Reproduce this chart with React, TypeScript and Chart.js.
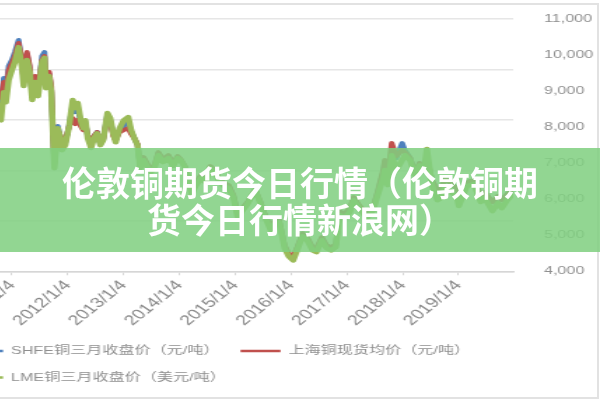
import React, { useEffect, useRef } from 'react';
import { Chart, registerables } from 'chart.js';

Chart.register(...registerables);

// ---- data ----
const dates = [
  '2010-10-01', '2010-10-20', '2010-11-08', '2010-11-22', '2010-12-10', '2010-12-31',
  '2011-01-20', '2011-02-14', '2011-03-04', '2011-03-17', '2011-04-08', '2011-04-26', '2011-05-12', '2011-06-02', '2011-06-20', '2011-07-15', '2011-08-01', '2011-08-10', '2011-08-31', '2011-09-15', '2011-09-30', '2011-10-05', '2011-10-27', '2011-11-15', '2011-11-25', '2011-12-15',
  '2012-01-10', '2012-02-03', '2012-02-20', '2012-03-05', '2012-03-25', '2012-04-10', '2012-04-25', '2012-05-10', '2012-06-01', '2012-06-20', '2012-07-10', '2012-08-01', '2012-08-20', '2012-09-17', '2012-10-05', '2012-10-25', '2012-11-10', '2012-12-05',
  '2013-01-02', '2013-02-01', '2013-02-20', '2013-03-10', '2013-04-01', '2013-04-18', '2013-05-10', '2013-06-25', '2013-07-20', '2013-08-15', '2013-09-15', '2013-10-20', '2013-11-20', '2013-12-20',
  '2014-01-10', '2014-02-10', '2014-03-20', '2014-04-15', '2014-05-20', '2014-06-20', '2014-07-20', '2014-08-20', '2014-09-20', '2014-10-20', '2014-11-20', '2014-12-20',
  '2015-01-15', '2015-02-10', '2015-03-20', '2015-05-10', '2015-06-15', '2015-07-10', '2015-08-20', '2015-09-15', '2015-10-15', '2015-11-20', '2015-12-15',
  '2016-01-15', '2016-02-10', '2016-03-15', '2016-04-15', '2016-05-20', '2016-06-15', '2016-07-20', '2016-08-20', '2016-09-20', '2016-10-20', '2016-11-15', '2016-12-15',
  '2017-01-20', '2017-02-15', '2017-03-20', '2017-05-10', '2017-06-20', '2017-07-20', '2017-08-25', '2017-09-05', '2017-09-25', '2017-10-20', '2017-11-20', '2017-12-28',
  '2018-01-15', '2018-02-20', '2018-03-20', '2018-04-20', '2018-05-20', '2018-06-07', '2018-07-10', '2018-08-15', '2018-09-10', '2018-10-05', '2018-11-15', '2018-12-20',
  '2019-01-03', '2019-02-25', '2019-04-10', '2019-05-25', '2019-06-20', '2019-08-10', '2019-09-15', '2019-10-10', '2019-11-15', '2019-12-20',
];

// SHFE铜三月收盘价（元/吨） — left axis
const shfe = [
  63930, 62940, 68290, 65910, 70680, 71870,
  73450, 75830, 71870, 67900, 73060, 70280, 64720, 67900, 65520, 72660, 73450, 67500, 69090, 65910, 54410, 51630, 58770, 56390, 54410, 55400,
  58970, 63140, 61550, 62340, 59570, 58370, 59570, 56790, 54800, 56790, 57580, 55200, 56190, 61150, 59960, 57180, 55990, 57980,
  58770, 59570, 57780, 56390, 55000, 50840, 52420, 50040, 50840, 53410, 52030, 52820, 51230, 52620,
  52030, 50440, 46070, 47260, 48850, 48060, 50640, 49840, 48060, 47260, 46870, 44880,
  41710, 42110, 43490, 46070, 43490, 41310, 38530, 39720, 39920, 34960, 33380,
  32780, 34570, 37340, 36550, 34570, 34370, 36550, 34960, 34570, 35160, 41710, 41110,
  42300, 44490, 42900, 41110, 42500, 45680, 49650, 51630, 48450, 53610, 52420, 55400,
  54010, 52420, 49650, 51430, 51030, 52420, 48060, 46070, 46470, 48450, 47260, 46470,
  44880, 47660, 48060, 45080, 45680, 43690, 44880, 44090, 45280, 46070,
];

// 上海铜现货均价（元/吨） — left axis
const spot = [
  65520, 64330, 67500, 65520, 69880, 71270,
  72660, 75240, 72260, 67500, 73450, 70680, 65520, 68690, 65910, 71870, 72660, 67900, 69490, 66710, 54800, 51230, 57980, 56790, 54800, 55800,
  58770, 60360, 59170, 59960, 58770, 57980, 59170, 56990, 55000, 56790, 57580, 55400, 56190, 60760, 59570, 56790, 55990, 57580,
  57980, 58370, 57180, 56390, 55200, 51030, 52620, 50240, 51030, 53610, 52220, 53020, 51430, 52820,
  52220, 50640, 46270, 47460, 49050, 48260, 50840, 50040, 48260, 47460, 47070, 45080,
  41910, 42300, 43690, 46270, 43690, 41510, 38730, 39920, 40120, 35160, 33570,
  32980, 34760, 37540, 36750, 34760, 34570, 36750, 35160, 34760, 35360, 41910, 41310,
  42500, 44690, 43100, 41310, 42700, 45880, 50040, 52030, 48850, 55400, 52820, 54010,
  53610, 52420, 49650, 51430, 51030, 52420, 48060, 46070, 46470, 48450, 47260, 46470,
  44880, 47660, 48060, 45080, 45680, 43690, 44880, 44090, 45280, 46070,
];

// LME铜三月收盘价（美元/吨） — right axis
const lme = [
  8250, 8190, 8970, 8690, 9310, 9580,
  9810, 10220, 9690, 9140, 9860, 9530, 8750, 9250, 8860, 9810, 9920, 9080, 9420, 8970, 7360, 6860, 7970, 7690, 7360, 7500,
  8030, 8750, 8530, 8670, 8190, 7970, 8190, 7690, 7420, 7690, 7830, 7500, 7640, 8390, 8250, 7810, 7580, 7970,
  8190, 8280, 7920, 7690, 7500, 6860, 7080, 6750, 6860, 7220, 7030, 7140, 6920, 7140,
  7080, 6860, 6140, 6360, 6580, 6470, 6860, 6750, 6470, 6360, 6300, 6030,
  5530, 5640, 5860, 6250, 5860, 5530, 5140, 5310, 5360, 4640, 4420,
  4300, 4580, 4970, 4860, 4580, 4530, 4860, 4640, 4580, 4670, 5560, 5470,
  5640, 5970, 5750, 5470, 5690, 6110, 6580, 6810, 6390, 7220, 6810, 7080,
  7220, 7080, 6670, 6940, 6860, 7390, 6390, 5970, 6030, 6360, 6190, 6080,
  5810, 6360, 6420, 5920, 6030, 5670, 5890, 5750, 5970, 6140,
];

const seriesLabels = ['SHFE铜三月收盘价（元/吨）', '上海铜现货均价（元/吨）', 'LME铜三月收盘价（美元/吨）'];
const tickYears = [2011, 2012, 2013, 2014, 2015, 2016, 2017, 2018, 2019];
const tickLabels = ['2011/1/4', '2012/1/4', '2013/1/4', '2014/1/4', '2015/1/4', '2016/1/4', '2017/1/4', '2018/1/4', '2019/1/4'];
const titleLine1 = '伦敦铜期货今日行情（伦敦铜期';
const titleLine2 = '货今日行情新浪网）';

// ---- presentation ----
const STRETCH = 1.4;
const CANVAS_W = 480;
const RIGHT_AXIS_W = 72;
const CANVAS_H = 400;
const BLUE = '#4F81BD';
const RED = '#C0504D';
const GREEN = '#9BBB59';
const TEXT = '#8f8f8f';
const FAMILY = "'Liberation Sans', 'Noto Sans CJK SC', sans-serif";

function toYear(d: string): number {
  const [y, m, dd] = d.split('-').map(Number);
  return y + (m - 1) / 12 + (dd - 1) / 365;
}

function points(values: number[]) {
  return values.map((v, i) => ({ x: toYear(dates[i]), y: v }));
}

const lineStyle = { pointRadius: 0, tension: 0, borderJoinStyle: 'round', borderCapStyle: 'round' };

function makeConfig(): any {
  const colors = [BLUE, RED, GREEN];
  return {
    type: 'line',
    data: {
      datasets: [
        { label: seriesLabels[0], data: points(shfe), yAxisID: 'y', borderColor: BLUE, backgroundColor: BLUE, borderWidth: 4, order: 2, ...lineStyle },
        { label: seriesLabels[1], data: points(spot), yAxisID: 'y', borderColor: RED, backgroundColor: RED, borderWidth: 4, order: 1, ...lineStyle },
        { label: seriesLabels[2], data: points(lme), yAxisID: 'y1', borderColor: GREEN, backgroundColor: GREEN, borderWidth: 4.5, order: 0, ...lineStyle },
      ],
    },
    options: {
      responsive: false,
      animation: false,
      devicePixelRatio: 1,
      events: [],
      layout: { padding: { left: 0, right: 0, top: 19, bottom: 6.75 } },
      plugins: {
        tooltip: { enabled: false },
        legend: {
          position: 'bottom',
          align: 'start',
          maxWidth: 458,
          labels: {
            boxWidth: 28.6,
            boxHeight: 2.5,
            padding: 15,
            color: TEXT,
            font: { family: FAMILY, size: 11.5 },
            generateLabels: (chart: any) =>
              chart.data.datasets.map((ds: any, i: number) => ({
                text: ds.label,
                fillStyle: colors[i],
                strokeStyle: colors[i],
                lineWidth: 0,
                fontColor: TEXT,
                hidden: false,
                datasetIndex: i,
              })),
          },
        },
      },
      scales: {
        x: {
          type: 'linear',
          min: 2010.75,
          max: 2019.98,
          afterBuildTicks: (s: any) => {
            s.ticks = tickYears.map((v) => ({ value: v }));
          },
          afterFit: (s: any) => {
            s.height = 59;
            s.paddingLeft = 0;
            s.paddingRight = 0;
          },
          grid: { drawOnChartArea: false, drawTicks: true, tickLength: 4, color: '#d6d6d6' },
          border: { display: true, color: '#d6d6d6', width: 1.5 },
          ticks: {
            autoSkip: false,
            minRotation: 48,
            maxRotation: 48,
            padding: 2,
            color: '#888888',
            font: { family: FAMILY, size: 14 },
            callback: (_v: any, i: number) => tickLabels[i],
          },
        },
        y: {
          position: 'left',
          min: 30000,
          max: 80000,
          ticks: { display: false, stepSize: 10000 },
          grid: { color: '#e6e6e6', lineWidth: 1.5, drawTicks: false },
          border: { display: false },
          afterFit: (s: any) => {
            s.width = 40;
            s.paddingTop = 0;
            s.paddingBottom = 0;
          },
        },
        y1: {
          position: 'right',
          min: 4000,
          max: 11000,
          ticks: {
            stepSize: 1000,
            padding: 14,
            color: TEXT,
            font: { family: FAMILY, size: 11.5 },
            callback: (v: any) => Number(v).toLocaleString('en-US'),
          },
          grid: { display: false },
          border: { display: false },
          afterFit: (s: any) => {
            s.width = RIGHT_AXIS_W;
            s.paddingTop = 0;
            s.paddingBottom = 0;
          },
        },
      },
    },
  };
}

export default function App() {
  const ref = useRef<HTMLCanvasElement | null>(null);

  useEffect(() => {
    const canvas = ref.current;
    if (!canvas) return;
    canvas.width = CANVAS_W;
    canvas.height = CANVAS_H;
    const chart = new Chart(canvas, makeConfig());
    return () => chart.destroy();
  }, []);

  return (
    <div
      style={{
        position: 'fixed',
        left: 0,
        top: 0,
        width: 600,
        height: 400,
        overflow: 'hidden',
        background: '#ffffff',
      }}
    >
      <canvas
        ref={ref}
        width={CANVAS_W}
        height={CANVAS_H}
        style={{
          position: 'absolute',
          left: -2 - 40 * STRETCH,
          top: 0,
          width: CANVAS_W * STRETCH,
          height: CANVAS_H,
        }}
      />
      <div
        style={{
          position: 'absolute',
          left: -10,
          top: 3,
          width: 605,
          height: 392,
          border: '2px solid #e2e2e2',
          pointerEvents: 'none',
        }}
      />
      <div
        style={{
          position: 'absolute',
          left: 0,
          top: 148,
          width: 600,
          height: 104,
          background: 'rgba(128, 207, 128, 0.86)',
          display: 'flex',
          flexDirection: 'column',
          alignItems: 'center',
          justifyContent: 'center',
          color: '#ffffff',
          fontFamily: "'Noto Sans CJK SC', sans-serif",
          fontWeight: 700,
          fontSize: 34,
          lineHeight: '37px',
          textAlign: 'center',
        }}
      >
        <div>{titleLine1}</div>
        <div>{titleLine2}</div>
      </div>
    </div>
  );
}
